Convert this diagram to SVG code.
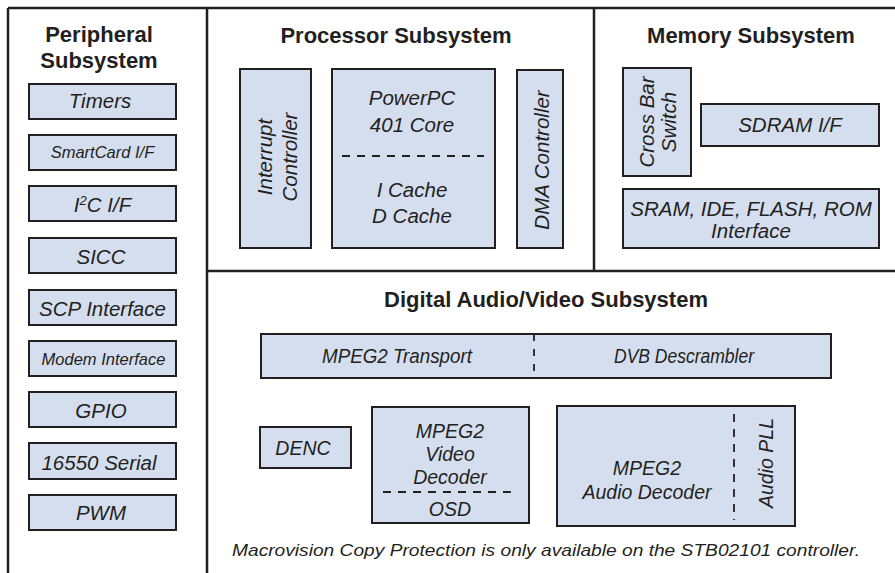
<svg xmlns="http://www.w3.org/2000/svg" width="895" height="573" viewBox="0 0 895 573">
<style>
.frame{stroke:#231f20;stroke-width:2.5;fill:none}
.blk{fill:#d5deef;stroke:#231f20;stroke-width:2}
.dash{stroke:#231f20;stroke-width:1.8;stroke-dasharray:8 7;fill:none}
.title{font-family:"Liberation Sans",Arial,sans-serif;font-weight:bold;font-size:22px;fill:#231f20;text-anchor:middle}
.lbl{font-family:"Liberation Sans",Arial,sans-serif;font-style:italic;font-size:20.5px;fill:#231f20;text-anchor:middle}
.sm{font-size:16.5px}
.av{font-size:19.5px}
.note{font-family:"Liberation Sans",Arial,sans-serif;font-style:italic;font-size:16.5px;fill:#231f20;text-anchor:middle}
</style>
<rect width="895" height="573" fill="#ffffff"/>
<g id="frame">
<line class="frame" x1="8" y1="8" x2="895" y2="8"/>
<line class="frame" x1="8" y1="8" x2="8" y2="573"/>
<line class="frame" x1="207" y1="8" x2="207" y2="573"/>
<line class="frame" x1="207" y1="271" x2="895" y2="271"/>
<line class="frame" x1="594" y1="8" x2="594" y2="271"/>
</g>
<g id="connectors"></g>

<g id="peripheral-subsystem">
<text class="title" x="99" y="42">Peripheral</text>
<text class="title" x="99" y="68">Subsystem</text>
</g>
<g id="timers"><rect class="blk" x="29" y="84" width="147" height="35"/><text class="lbl" x="100" y="108">Timers</text></g>
<g id="smartcard"><rect class="blk" x="29" y="135" width="147" height="35"/><text class="lbl sm" x="102.5" y="158">SmartCard I/F</text></g>
<g id="i2c"><rect class="blk" x="29" y="186" width="147" height="35"/><text class="lbl" x="102.5" y="212">I<tspan font-size="13" dy="-7">2</tspan><tspan dy="7">C I/F</tspan></text></g>
<g id="sicc"><rect class="blk" x="29" y="238" width="147" height="35"/><text class="lbl" x="101" y="264">SICC</text></g>
<g id="scp"><rect class="blk" x="29" y="290" width="147" height="35"/><text class="lbl" x="102.5" y="316">SCP Interface</text></g>
<g id="modem"><rect class="blk" x="29" y="341" width="147" height="35"/><text class="lbl sm" x="103.5" y="365">Modem Interface</text></g>
<g id="gpio"><rect class="blk" x="29" y="392" width="147" height="35"/><text class="lbl" x="101" y="418">GPIO</text></g>
<g id="serial"><rect class="blk" x="29" y="443" width="147" height="36"/><text class="lbl" x="99" y="470">16550 Serial</text></g>
<g id="pwm"><rect class="blk" x="29" y="495" width="147" height="35"/><text class="lbl" x="101" y="520">PWM</text></g>

<g id="processor-subsystem"><text class="title" x="396" y="43">Processor Subsystem</text></g>
<g id="interrupt-controller"><rect class="blk" x="240" y="69" width="71" height="179"/>
<text class="lbl" transform="translate(272,157) rotate(-90)">Interrupt</text>
<text class="lbl" transform="translate(297,157) rotate(-90)">Controller</text></g>
<g id="powerpc"><rect class="blk" x="332" y="69" width="163" height="179"/>
<text class="lbl" x="412" y="105">PowerPC</text>
<text class="lbl" x="412" y="132">401 Core</text>
<line class="dash" x1="342" y1="156" x2="484" y2="156"/>
<text class="lbl" x="412" y="197">I Cache</text>
<text class="lbl" x="412" y="223">D Cache</text></g>
<g id="dma-controller"><rect class="blk" x="517" y="70" width="46" height="178"/>
<text class="lbl" transform="translate(549,160) rotate(-90)">DMA Controller</text></g>

<g id="memory-subsystem"><text class="title" x="751" y="43">Memory Subsystem</text></g>
<g id="crossbar"><rect class="blk" x="623" y="68" width="68" height="108"/>
<text class="lbl" transform="translate(654,122) rotate(-90)">Cross Bar</text>
<text class="lbl" transform="translate(676,122) rotate(-90)">Switch</text></g>
<g id="sdram"><rect class="blk" x="701" y="104" width="178" height="42"/><text class="lbl" x="790" y="132">SDRAM I/F</text></g>
<g id="sram"><rect class="blk" x="623" y="189" width="256" height="59"/>
<text class="lbl" x="751" y="216">SRAM, IDE, FLASH, ROM</text>
<text class="lbl" x="751" y="238">Interface</text></g>

<g id="av-subsystem"><text class="title" x="546" y="307">Digital Audio/Video Subsystem</text></g>
<g id="transport"><rect class="blk" x="261" y="334" width="570" height="44"/>
<line class="dash" x1="534" y1="334" x2="534" y2="378" style="stroke-dasharray:7 8"/>
<text class="lbl av" x="397" y="363" textLength="150" lengthAdjust="spacingAndGlyphs">MPEG2 Transport</text>
<text class="lbl av" x="684" y="363" textLength="140" lengthAdjust="spacingAndGlyphs">DVB Descrambler</text></g>
<g id="denc"><rect class="blk" x="260" y="427" width="91" height="41"/><text class="lbl av" x="303" y="455">DENC</text></g>
<g id="video-decoder"><rect class="blk" x="372" y="407" width="157" height="116"/>
<text class="lbl av" x="450" y="438">MPEG2</text>
<text class="lbl av" x="450" y="461">Video</text>
<text class="lbl av" x="450" y="484">Decoder</text>
<line class="dash" x1="383" y1="492" x2="518" y2="492"/>
<text class="lbl av" x="450" y="516">OSD</text></g>
<g id="audio-decoder"><rect class="blk" x="557" y="406" width="238" height="120"/>
<text class="lbl av" x="647" y="475">MPEG2</text>
<text class="lbl av" x="647" y="499">Audio Decoder</text>
<line class="dash" x1="734" y1="414" x2="734" y2="520"/>
<text class="lbl av" transform="translate(773,463) rotate(-90)">Audio PLL</text></g>
<g id="footnote"><text class="note" x="546" y="556" textLength="628" lengthAdjust="spacingAndGlyphs">Macrovision Copy Protection is only available on the STB02101 controller.</text></g>
</svg>
